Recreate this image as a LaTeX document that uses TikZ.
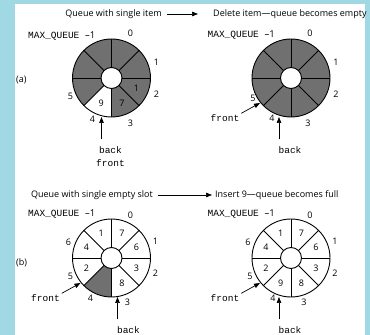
\documentclass[tikz,border=0pt]{standalone}
\usepackage{fontspec}
\setmainfont{Open Sans}
\setmonofont{Liberation Mono}
\usetikzlibrary{arrows.meta}
\definecolor{panelblue}{RGB}{160,217,227}
\definecolor{cellgray}{RGB}{112,112,112}
\newcommand\Rout{39}
\newcommand\Rin{10.5}
% ring of 8 slots: #1 name prefix, #2 fill of slots 0..7, #3 slot/content pairs
\newcommand\queuering[3]{%
  \foreach \fc [count=\kk from 0] in {#2}{
    \fill[\fc] (90-45*\kk:\Rout) arc[start angle=90-45*\kk,end angle=45-45*\kk,radius=\Rout]
      -- (45-45*\kk:\Rin) arc[start angle=45-45*\kk,end angle=90-45*\kk,radius=\Rin] -- cycle;
  }
  \foreach \kk in {0,...,7}{\draw[ringline] (45*\kk:\Rin) -- (45*\kk:\Rout);}
  \draw[ringline] (0,0) circle[radius=\Rout];
  \draw[ringline] (0,0) circle[radius=\Rin];
  \foreach \kk/\t in {#3}{\node[cell] (#1-c\kk) at (67.5-45*\kk:27) {\t};}
}
\begin{document}
\begin{tikzpicture}[x=1pt,y=1pt,
  ringline/.style={line width=0.9pt},
  cell/.style={font=\fontsize{9}{10}\selectfont, inner sep=0pt},
  idx/.style={font=\fontsize{9}{10}\selectfont, inner sep=0pt},
  code/.style={font=\ttfamily\fontsize{9.5}{10}\selectfont, inner sep=0pt},
  title/.style={font=\fontsize{9}{10}\selectfont, inner sep=0pt},
  ptr/.style={-{Triangle[length=6pt,width=4.5pt]}, line width=0.7pt},
]
\useasboundingbox (0,0) rectangle (370,335);
\fill[panelblue] (0,0) rectangle (370,335);
\fill[white] (15,0) rectangle (365,331);

% ---------- part (a) ----------
\node[title, anchor=east] (a-t1) at (162,321) {Queue with single item};
\node[title, anchor=west] (a-t2) at (213,321) {Delete item—queue becomes empty};
\draw[ptr, shorten <=5pt, shorten >=15pt] (a-t1.east) -- (a-t2.west);
\node[title, anchor=west] (a-lbl) at (16,255) {(a)};

\begin{scope}[shift={(111.5,257)}]
  \queuering{a1}{cellgray,cellgray,cellgray,cellgray,white,cellgray,cellgray,cellgray}{2/1,3/7,4/9}
  \node[code, anchor=east] (a1-max) at (-16,42) {MAX\_QUEUE {\rmfamily\textendash1}};
  \foreach \i/\dx/\dy in {0/19/44.5,1/45/16,2/45/-16,3/19/-45,4/-19/-41,5/-41/-18}
    \node[idx] (a1-i\i) at (\dx,\dy) {\i};
  \node[code] (a1-back) at (-1,-72) {back};
  \node[code] (a1-front) at (-1,-85) {front};
  \coordinate (a1-tip) at (-10,-39);
  \draw[ptr, shorten <=7pt] (a1-back.north -| a1-tip) -- (a1-tip);
\end{scope}

\begin{scope}[shift={(291,257)}]
  \queuering{a2}{cellgray,cellgray,cellgray,cellgray,cellgray,cellgray,cellgray,cellgray}{}
  \node[code, anchor=east] (a2-max) at (-16,43) {MAX\_QUEUE {\rmfamily\textendash1}};
  \foreach \i/\dx/\dy in {0/19/44.5,1/45/16,2/45/-16,3/17/-45,4/-19/-40,5/-38/-20}
    \node[idx] (a2-i\i) at (\dx,\dy) {\i};
  \node[code] (a2-front) at (-66,-40) {front};
  \coordinate (a2-ftip) at (-31,-25);
  \draw[ptr, shorten <=2pt] (a2-front.north east) -- (a2-ftip);
  \node[code] (a2-back) at (-1,-72) {back};
  \coordinate (a2-tip) at (-12,-39);
  \draw[ptr, shorten <=7pt] (a2-back.north -| a2-tip) -- (a2-tip);
\end{scope}

% ---------- part (b) ----------
\node[title, anchor=east] (b-t1) at (153,140) {Queue with single empty slot};
\node[title, anchor=west] (b-t2) at (215,140) {Insert 9—queue becomes full};
\draw[ptr, shorten <=5pt, shorten >=3pt] (b-t1.east) -- (b-t2.west);
\node[title, anchor=west] (b-lbl) at (16,72) {(b)};

\begin{scope}[shift={(111.5,77)}]
  \queuering{b1}{white,white,white,white,cellgray,white,white,white}{0/7,1/6,2/3,3/8,5/2,6/4,7/1}
  \node[code, anchor=east] (b1-max) at (-16,44) {MAX\_QUEUE {\rmfamily\textendash1}};
  \foreach \i/\dx/\dy in {0/19/42.5,1/44/17,2/44/-15,3/16/-44,4/-21/-40,5/-41/-18,6/-43/16}
    \node[idx] (b1-i\i) at (\dx,\dy) {\i};
  \node[code] (b1-front) at (-66,-40) {front};
  \coordinate (b1-ftip) at (-31,-25);
  \draw[ptr, shorten <=2pt] (b1-front.north east) -- (b1-ftip);
  \node[code] (b1-back) at (17,-72) {back};
  \coordinate (b1-tip) at (6,-39);
  \draw[ptr, shorten <=7pt] (b1-back.north -| b1-tip) -- (b1-tip);
\end{scope}

\begin{scope}[shift={(291,77)}]
  \queuering{b2}{white,white,white,white,white,white,white,white}{0/7,1/6,2/3,3/8,4/9,5/2,6/4,7/1}
  \node[code, anchor=east] (b2-max) at (-16,44) {MAX\_QUEUE {\rmfamily\textendash1}};
  \foreach \i/\dx/\dy in {0/19/42.5,1/44/17,2/44/-15,3/13/-44,4/-18/-40,5/-41/-18,6/-43/16}
    \node[idx] (b2-i\i) at (\dx,\dy) {\i};
  \node[code] (b2-front) at (-66,-40) {front};
  \coordinate (b2-ftip) at (-31,-25);
  \draw[ptr, shorten <=2pt] (b2-front.north east) -- (b2-ftip);
  \node[code] (b2-back) at (-1,-72) {back};
  \coordinate (b2-tip) at (-12,-39);
  \draw[ptr, shorten <=7pt] (b2-back.north -| b2-tip) -- (b2-tip);
\end{scope}
\end{tikzpicture}
\end{document}
